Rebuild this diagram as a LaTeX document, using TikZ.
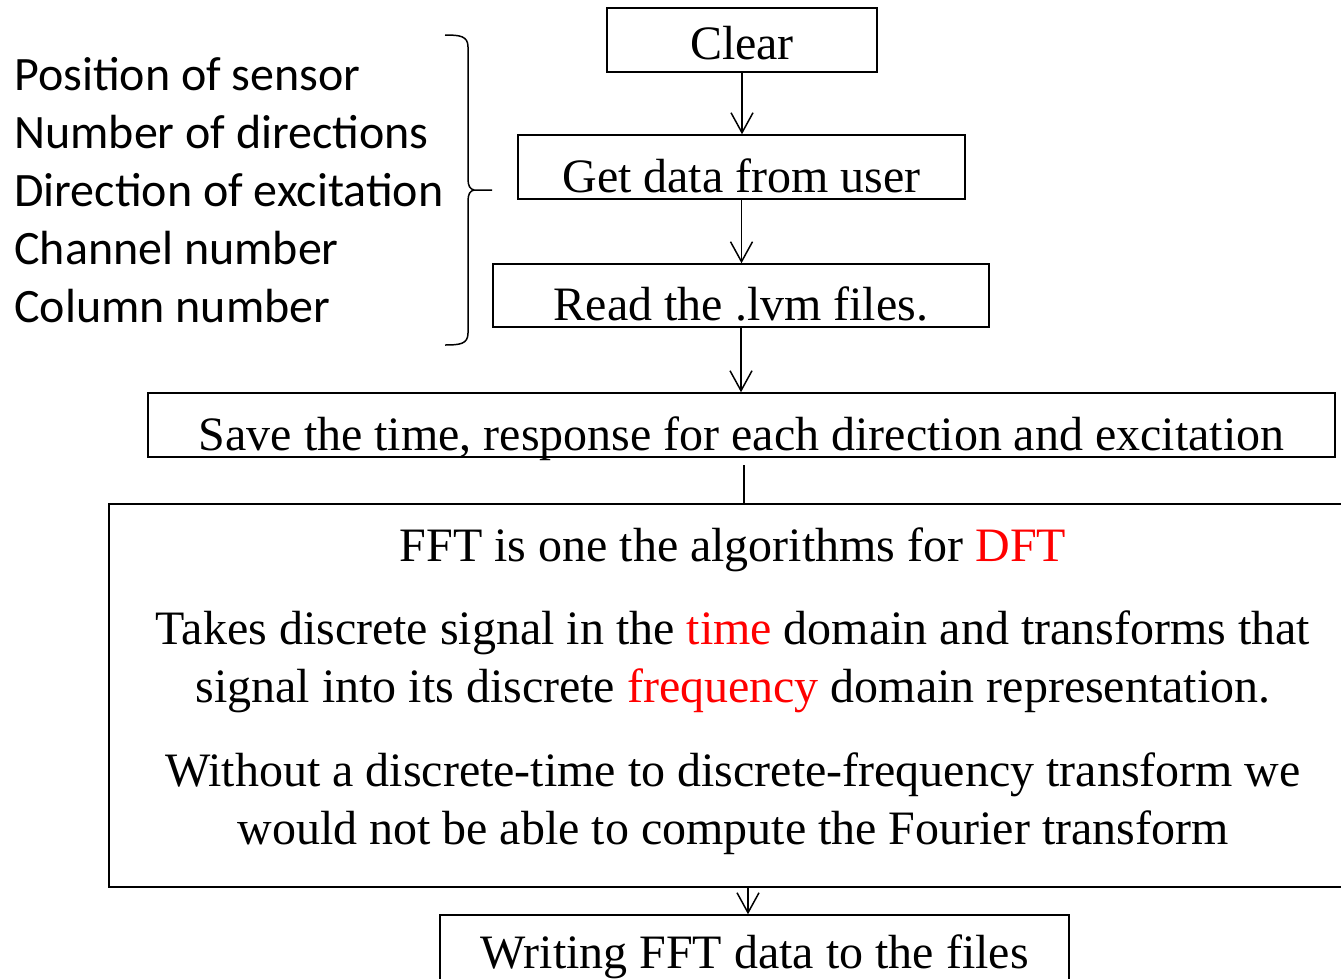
\documentclass[tikz,border=0pt]{standalone}
\usepackage{fontspec}
\setmainfont{Liberation Serif}
\newfontfamily\sidefont{Carlito}
\usetikzlibrary{arrows.meta}

\tikzset{
  stepbox/.style={draw, line width=0.85pt, inner sep=0pt,
    font=\fontsize{27.3}{33}\selectfont, text height=1.14cm, text depth=0.14cm},
  flow/.style={line width=0.85pt, -{Straight Barb[length=0.4cm,width=0.44cm]}},
}

\begin{document}
\begin{tikzpicture}[x=0.02cm,y=-0.02cm]
	\useasboundingbox (0,0) rectangle (1341,978);
	\clip (0,0) rectangle (1341,978);
	\fill[white] (0,0) rectangle (1341,978);
	%%  inputs and brace  %%%%%%%%
	\node[anchor=west, align=left, inner sep=0pt,
	      font=\sidefont\fontsize{27.3}{32.9}\selectfont] (inputs) at (14,190)
	      {Position of sensor\\Number of directions\\Direction of excitation\\Channel number\\Column number};
	\draw[line width=0.85pt] (445,35) .. controls (460,35) and (468,36) .. (468,47) -- (468,179)
	      .. controls (468,186) and (470,189) .. (474,190) -- (492,190);
	\draw[line width=0.85pt] (474,190) .. controls (470,191) and (468,194) .. (468,201) -- (468,333)
	      .. controls (468,344) and (460,345) .. (445,345);
	%%  flow chart  %%%%%%%%
	\node[stepbox, minimum width=5.4cm, text height=1.02cm, text depth=0.26cm] (clear) at (742,40) {Clear};
	\node[stepbox, minimum width=8.94cm] (getdata) at (741.5,167) {Get data from user};
	\node[stepbox, minimum width=9.92cm, text height=1.12cm] (readlvm) at (741,295.5) {Read the .lvm files.};
	\node[stepbox, minimum width=23.74cm] (savetr) at (741.5,425) {Save the time, response for each direction and excitation};
	\node[draw, line width=1.1pt, inner sep=0pt, minimum width=24.96cm, minimum height=7.66cm] (fft) at (733,695.5) {};
	\node[align=center, inner sep=0pt, font=\fontsize{27.3}{33}\selectfont] (ffttext) at (733,691)
	      {FFT is one the algorithms for \textcolor{red}{DFT}\\[0.51cm]
	       Takes discrete signal in the \textcolor{red}{time} domain and transforms that\\
	       signal into its discrete \textcolor{red}{frequency} domain representation.\\[0.51cm]
	       Without a discrete-time to discrete-frequency transform we\\
	       would not be able to compute the Fourier transform};
	\node[stepbox, minimum width=12.58cm, text height=1.06cm, text depth=0.64cm] (writefft) at (754.5,957.5) {Writing FFT data to the files};
	%%  connectors  %%%%%%%%
	\draw[flow] (clear.south) -- (clear.south |- getdata.north);
	\draw[flow] (getdata.south) -- (getdata.south |- readlvm.north);
	\draw[flow] (readlvm.south) -- (readlvm.south |- savetr.north);
	\coordinate (savegap) at (744,465);
	\draw[line width=0.85pt] (savegap) -- (savegap |- fft.north);
	\coordinate (fftout) at (748,887);
	\draw[flow] (fftout) -- (fftout |- writefft.north);
	%%%%%%%%%%%%%%%
\end{tikzpicture}
\end{document}
